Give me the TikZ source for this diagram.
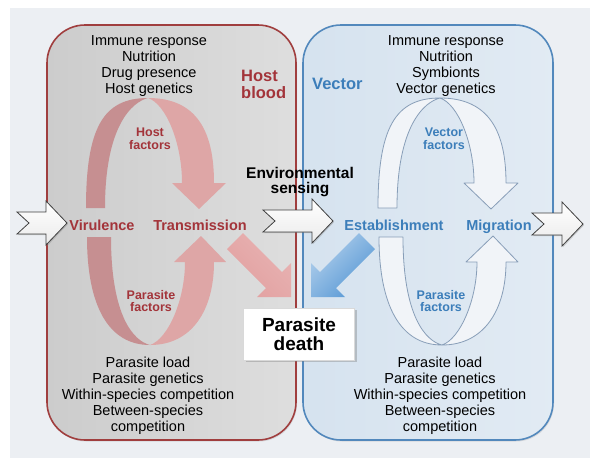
\documentclass[tikz,border=0pt]{standalone}
\usepackage{fontspec}
\setmainfont{Liberation Sans}
\usetikzlibrary{positioning, arrows.meta, shadows}

\definecolor{hostred}{RGB}{163,52,58}
\definecolor{hostline}{RGB}{160,62,62}
\definecolor{vecblue}{RGB}{60,126,186}
\definecolor{vecline}{RGB}{82,136,188}
\definecolor{strandA}{RGB}{198,143,145}
\definecolor{strandB}{RGB}{222,166,166}
\definecolor{vecfill}{RGB}{241,244,248}
\definecolor{vecedge}{RGB}{136,158,184}
\definecolor{bgcol}{RGB}{236,239,243}
\definecolor{deathred}{RGB}{226,160,160}
\definecolor{deathblue}{RGB}{84,150,212}

\begin{document}
\begin{tikzpicture}[x=1pt, y=-1pt,
   lst/.style = {align=center, inner sep=0pt, anchor=north,
                 font=\fontsize{14.5}{16}\selectfont},
   stage/.style = {inner sep=0pt, anchor=base,
                   font=\bfseries\fontsize{14.5}{16}\selectfont},
   factor/.style = {align=center, inner sep=0pt, anchor=north,
                    font=\bfseries\fontsize{12.5}{12.5}\selectfont},
   place/.style = {align=left, inner sep=0pt, anchor=north west,
                   font=\bfseries\fontsize{16.5}{17}\selectfont},
   hostbox/.style = {draw=hostline, line width=1.6pt, rounded corners=38pt,
                     left color=black!20, middle color=black!7, right color=black!13,
                     drop shadow={opacity=0.2, shadow xshift=1pt, shadow yshift=-1.5pt}},
   vecbox/.style = {draw=vecline, line width=1.6pt, rounded corners=38pt,
                    left color=vecline!24!white, middle color=vecline!10!white,
                    right color=vecline!17!white,
                    drop shadow={opacity=0.2, shadow xshift=1pt, shadow yshift=-1.5pt}},
   hostA/.style = {fill=strandA},
   hostB/.style = {fill=strandB},
   vecS/.style = {fill=vecfill, draw=vecedge, line width=0.8pt, line join=round},
   chev/.style = {draw=black!75, line width=0.8pt, line join=miter,
                  top color=white, bottom color=black!8,
                  drop shadow={opacity=0.35, shadow xshift=1pt, shadow yshift=-1.2pt}},
   deathbox/.style = {fill=white, draw=black!15, minimum width=111pt, minimum height=52pt,
                      align=center, font=\bfseries\fontsize{19}{19.5}\selectfont,
                      drop shadow={opacity=0.4, shadow xshift=2pt, shadow yshift=-2pt}}
                        ]
\useasboundingbox (0,0) rectangle (600,467);
\fill[bgcol] (10,8) rectangle (590,458);

% the two compartments
\path[hostbox] (47,25) rectangle (296,440);
\path[vecbox] (303,25) rectangle (553,440);

% lists of factors
\node (hostTop) [lst] at (149,35) {Immune response\\Nutrition\\Drug presence\\Host genetics};
\node (vecTop) [lst] at (446,35) {Immune response\\Nutrition\\Symbionts\\Vector genetics};
\node (hostBot) [lst] at (148,357) {Parasite load\\Parasite genetics\\Within-species competition\\Between-species\\competition};
\node (vecBot) [lst] at (440,357) {Parasite load\\Parasite genetics\\Within-species competition\\Between-species\\competition};

\node (blood) [place, text=hostred] at (241,70) {Host\\blood};
\node (vector) [place, text=vecblue] at (312,78) {Vector};

% cycles: top arc and bottom arc, host then vector
\foreach \cx/\sa/\sb in {148/hostA/hostB, 440/vecS/vecS}{
  \begin{scope}[shift={(\cx,98)}]
    \path[\sa] (-62,110) .. controls (-62,30) and (-45,0) .. (0,0)
               .. controls (-16,4) and (-43,28) .. (-43,110) -- cycle;
    \path[\sb] (0,0) .. controls (50,0) and (66,35) .. (66,85) -- (78,85) -- (51,111)
               -- (24,85) -- (34,85) .. controls (34,45) and (18,6) .. (0,0) -- cycle;
  \end{scope}
  \begin{scope}[shift={(\cx+2,345)}]
    \path[\sa] (-63,-108) .. controls (-63,-40) and (-42,0) .. (0,0)
               .. controls (-16,-4) and (-39,-28) .. (-39,-108) -- cycle;
    \path[\sb] (0,0) .. controls (42,0) and (64,-35) .. (64,-83) -- (76,-83) -- (51,-109)
               -- (24,-83) -- (35,-83) .. controls (35,-45) and (18,-6) .. (0,0) -- cycle;
  \end{scope}
}

\node (hf) [factor, text=hostred] at (150,128) {Host\\factors};
\node (hpf) [factor, text=hostred] at (151,290) {Parasite\\factors};
\node (vf) [factor, text=vecblue] at (444,128) {Vector\\factors};
\node (vpf) [factor, text=vecblue] at (441,290) {Parasite\\factors};

% stages
\node (vir) [stage, text=hostred] at (102,230) {Virulence};
\node (trans) [stage, text=hostred] at (200,230) {Transmission};
\node (estab) [stage, text=vecblue] at (394,230) {Establishment};
\node (migr) [stage, text=vecblue] at (499,230) {Migration};

\node (sense) [align=center, inner sep=0pt, anchor=north,
               font=\bfseries\fontsize{15.5}{15}\selectfont] at (300,167) {Environmental\\sensing};

% big open arrows
\foreach \px/\py/\len in {17/223/50, 263/221/70, 532/224/51}
  \path[chev] (\px,\py-11) -- (\px+\len-21,\py-11) -- (\px+\len-21,\py-22) -- (\px+\len,\py)
              -- (\px+\len-21,\py+22) -- (\px+\len-21,\py+11) -- (\px,\py+11)
              -- (\px+12,\py) -- cycle;

% arrows into parasite death
\path[top color=deathred!80!white, bottom color=deathred, shading angle=-45]
   (227,249) -- (243,233) -- (282,272) -- (291,263) -- (291,297) -- (257,297) -- (266,288) -- cycle;
\path[top color=deathblue!45!white, bottom color=deathblue, shading angle=45]
   (375,249) -- (359,233) -- (320,272) -- (311,263) -- (311,297) -- (345,297) -- (336,288) -- cycle;

\node (death) [deathbox] at (299,334) {Parasite\\death};
\end{tikzpicture}
\end{document}
